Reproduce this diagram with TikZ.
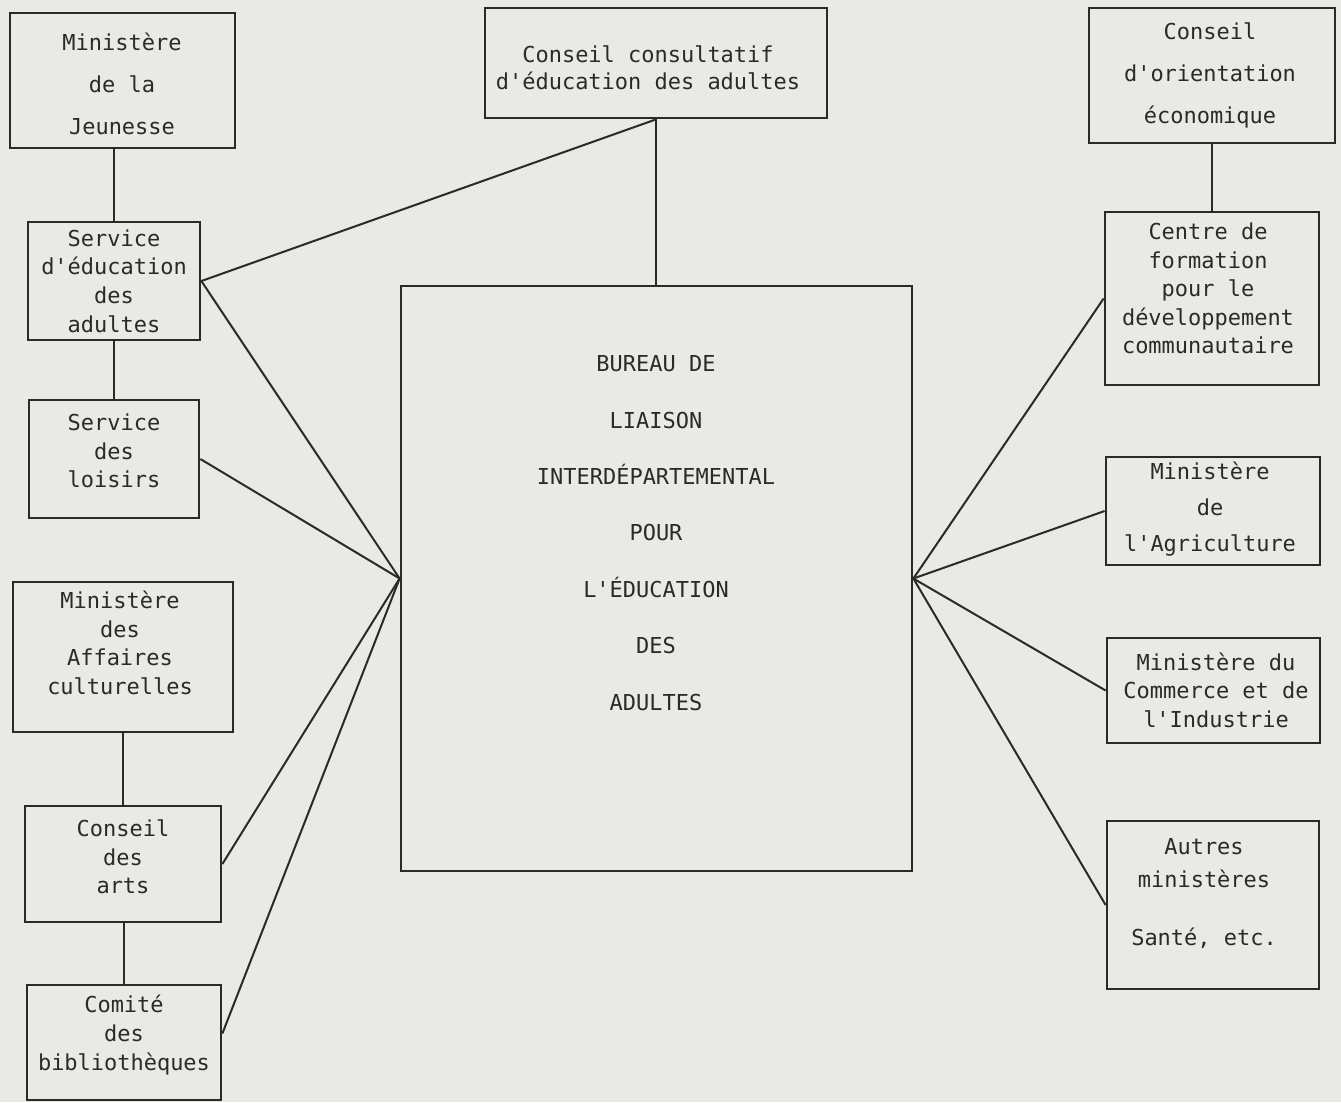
\documentclass[tikz,border=0pt]{standalone}
\usepackage{fontspec}
\setmainfont{DejaVu Sans Mono}[Ligatures=TeXOff]
\usetikzlibrary{calc,positioning}
\definecolor{papier}{RGB}{233,233,229}
\definecolor{encre}{RGB}{42,42,42}

\begin{document}
\begin{tikzpicture}[x=0.2mm,y=-0.2mm,
  boite/.style={draw=encre,line width=0.55mm,inner sep=0pt},
  texte/.style={text=encre,align=center,inner sep=0pt,
    font=\fontsize{12.5}{16.3}\selectfont},
  lien/.style={draw=encre,line width=0.4mm}]

\useasboundingbox[fill=papier] (0,0) rectangle (1341,1102);

% colonne de gauche
\node[boite,minimum width=45mm,minimum height=27mm] (jeunesse) at (122.5,80.5) {};
\node[texte,font=\fontsize{12.5}{24.1}\selectfont] (jeunesse-t) at (122,84) {Ministère\\de la\\Jeunesse};
\node[boite,minimum width=34.4mm,minimum height=23.6mm] (educ) at (114,281) {};
\node[texte] (educ-t) at (114,281) {Service\\d'éducation\\des\\adultes};
\node[boite,minimum width=34mm,minimum height=23.6mm] (loisirs) at (114,459) {};
\node[texte] (loisirs-t) at (114,451) {Service\\des\\loisirs};
\node[boite,minimum width=44mm,minimum height=30mm] (affaires) at (123,657) {};
\node[texte] (affaires-t) at (120,643) {Ministère\\des\\Affaires\\culturelles};
\node[boite,minimum width=39.2mm,minimum height=23.2mm] (arts) at (123,864) {};
\node[texte] (arts-t) at (123,857) {Conseil\\des\\arts};
\node[boite,minimum width=38.8mm,minimum height=23mm] (comite) at (124,1042.5) {};
\node[texte] (comite-t) at (124,1035) {Comité\\des\\bibliothèques};

% centre
\node[boite,minimum width=68.4mm,minimum height=22mm] (consultatif) at (656,63) {};
\node[texte,font=\fontsize{12.5}{15.3}\selectfont] (consultatif-t) at (648,68) {Conseil consultatif\\d'éducation des adultes};
\node[boite,minimum width=102.2mm,minimum height=117mm] (bureau) at (656.5,578.5) {};
\node[texte,font=\fontsize{12.5}{32.1}\selectfont] (bureau-t) at (656,533) {BUREAU DE\\LIAISON\\INTERDÉPARTEMENTAL\\POUR\\L'ÉDUCATION\\DES\\ADULTES};

% colonne de droite
\node[boite,minimum width=49.2mm,minimum height=27mm] (orientation) at (1212,75.5) {};
\node[texte,font=\fontsize{12.5}{24.1}\selectfont] (orientation-t) at (1210,75.5) {Conseil\\d'orientation\\économique};
\node[boite,minimum width=42.8mm,minimum height=34.6mm] (centre) at (1212,298.5) {};
\node[texte] (centre-t) at (1208,288.5) {Centre de\\formation\\pour le\\développement\\communautaire};
\node[boite,minimum width=42.8mm,minimum height=21.6mm] (agri) at (1213,511) {};
\node[texte,font=\fontsize{12.5}{20.4}\selectfont] (agri-t) at (1210,509) {Ministère\\de\\l'Agriculture};
\node[boite,minimum width=42.6mm,minimum height=21mm] (commerce) at (1213.5,690.5) {};
\node[texte] (commerce-t) at (1216,690) {Ministère du\\Commerce et de\\l'Industrie};
\node[boite,minimum width=42.4mm,minimum height=33.6mm] (autres) at (1213,905) {};
\node[texte,font=\fontsize{12.5}{18.7}\selectfont] (autres-t) at (1204,893.5) {Autres\\ministères\\[14.2pt]Santé, etc.};

% liens verticaux
\draw[lien] (educ.north) -- (educ.north |- jeunesse.south);
\draw[lien] (educ.south) -- (loisirs.north);
\draw[lien] (arts.north) -- (arts.north |- affaires.south);
\draw[lien] (comite.north) -- (comite.north |- arts.south);
\draw[lien] (orientation.south) -- (centre.north);
\draw[lien] (consultatif.south) -- (consultatif.south |- bureau.north);
\draw[lien] (educ.east) -- (consultatif.south);

% eventails
\foreach \n in {educ,loisirs,arts}
  \draw[lien] (\n.east) -- (bureau.west);
\draw[lien] ([yshift=1.8mm]comite.east) -- (bureau.west);
\foreach \n in {centre,agri,commerce,autres}
  \draw[lien] (\n.west) -- (bureau.east);
\end{tikzpicture}
\end{document}
